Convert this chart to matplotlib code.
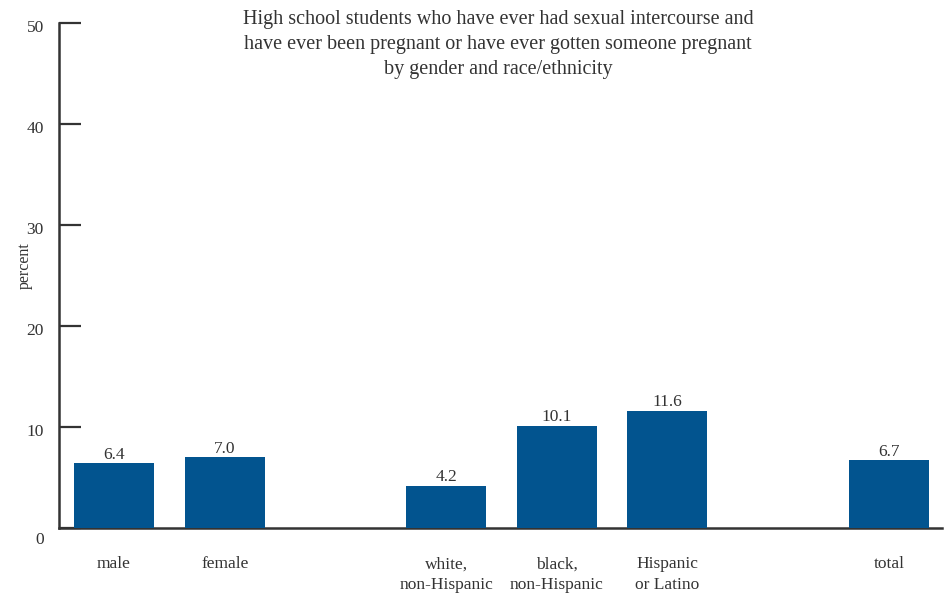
import numpy as np
import matplotlib.pyplot as plt
import matplotlib.transforms as mtransforms

# data
categories = ['male', 'female', 'white,\nnon-Hispanic', 'black,\nnon-Hispanic', 'Hispanic\nor Latino', 'total']
positions = [0, 1, 3, 4, 5, 7]
values = [6.4, 7.0, 4.2, 10.1, 11.6, 6.7]
y_ticks = [0, 10, 20, 30, 40, 50]

title = ('High school students who have ever had sexual intercourse and\n'
         'have ever been pregnant or have ever gotten someone pregnant\n'
         'by gender and race/ethnicity')

plt.rcParams['font.family'] = ['Liberation Serif', 'DejaVu Serif']
text_col = '#333333'
bar_col = '#02548f'

fig = plt.figure(figsize=(9.48, 5.95), dpi=100)
ax = fig.add_axes([59 / 948, 1 - 528 / 595, (942 - 59) / 948, (528 - 23) / 595])

ax.bar(positions, values, width=0.723, color=bar_col, zorder=3)
for x, v in zip(positions, values):
    ax.annotate(f'{v:.1f}', (x, v), xytext=(0, 0.5), textcoords='offset points',
                ha='center', va='bottom', fontsize=12.5, color=text_col)

ax.set_xlim(-0.497, 7.48)
ax.set_ylim(0, 50)

ax.set_xticks(positions)
ax.set_xticklabels(categories, fontsize=12.5, color=text_col, linespacing=1.4)
ax.tick_params(axis='x', length=0, pad=20.5)

ax.set_yticks(y_ticks)
ax.set_yticklabels([str(t) for t in y_ticks], fontsize=12.5, color=text_col)
ax.tick_params(axis='y', direction='in', length=15.5, width=1.6, color=text_col, pad=11)

# nudge the y labels a little below their ticks, the 0 more so
for lbl, t in zip(ax.get_yticklabels(), y_ticks):
    dy = -7 if t == 0 else -2
    off = mtransforms.ScaledTranslation(0, dy / 72, fig.dpi_scale_trans)
    lbl.set_transform(lbl.get_transform() + off)

for s in ['top', 'right']:
    ax.spines[s].set_visible(False)
for s in ['left', 'bottom']:
    ax.spines[s].set_linewidth(1.8)
    ax.spines[s].set_color(text_col)
ax.spines['bottom'].set_zorder(2)

ax.set_ylabel('percent', fontsize=11.5, color=text_col)
ax.yaxis.set_label_coords((33 - 59) / 883, 0.52)

fig.text(498 / 948, 1 - 10 / 595, title, ha='center', va='top', fontsize=14.5,
         color=text_col, linespacing=1.42)

fig.savefig('out.png', dpi=100)
